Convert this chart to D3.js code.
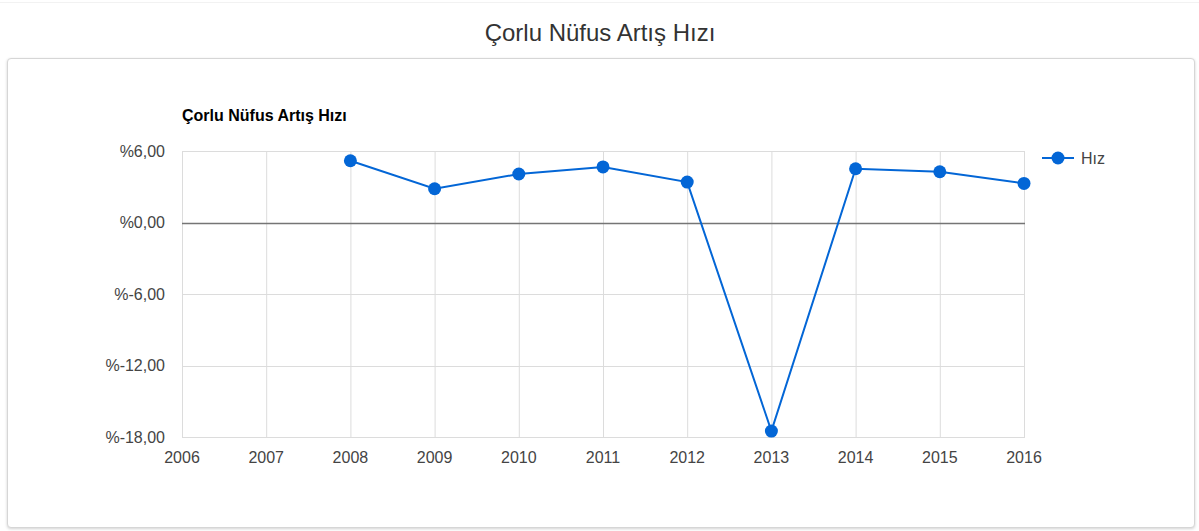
<!DOCTYPE html>
<html>
<head>
<meta charset="utf-8">
<script src="https://cdn.jsdelivr.net/npm/d3@7"></script>
<style>
  body { margin: 0; background: #fff; font-family: Arial, "Liberation Sans", sans-serif; }
  #top { position: absolute; left: 0; top: 2px; width: 1199px; height: 1px; background: #f2f2f2; }
  #card { position: absolute; left: 7px; top: 58px; width: 1186px; height: 468px; border: 1px solid #d6d6d6; border-radius: 4px; box-shadow: 0 1px 3px rgba(0,0,0,0.18); background: #fff; }
  svg { position: absolute; left: 0; top: 0; }
</style>
</head>
<body>
<div id="top"></div>
<div id="card"></div>
<svg id="viz" width="1199" height="531"></svg>
<script>
var years = [2006, 2007, 2008, 2009, 2010, 2011, 2012, 2013, 2014, 2015, 2016];
var dataYears = [2008, 2009, 2010, 2011, 2012, 2013, 2014, 2015, 2016];
var rates = [5.18, 2.83, 4.07, 4.66, 3.39, -17.5, 4.51, 4.26, 3.28];
var yTicks = [6, 0, -6, -12, -18];
var seriesName = "Hız";
var pageTitle = "Çorlu Nüfus Artış Hızı";

var svg = d3.select("#viz");
var x = d3.scaleLinear().domain([2006, 2016]).range([182, 1024]);
var y = d3.scaleLinear().domain([-18, 6]).range([437, 151]);
// turkish style: %6,00 with plain hyphen minus
var fmt = function (v) { return "%" + (v < 0 ? "-" : "") + Math.abs(v).toFixed(2).replace(".", ","); };
var blue = "#0366d6";

// page title
svg.append("text").attr("x", 600).attr("y", 41)
  .attr("text-anchor", "middle").attr("font-size", 24).attr("fill", "#333")
  .text(pageTitle);

// grid
svg.append("g").selectAll("line").data(years).join("line")
  .attr("x1", d => x(d) + 0.5).attr("x2", d => x(d) + 0.5)
  .attr("y1", y(6)).attr("y2", y(-18))
  .attr("stroke", "#dcdcdc").attr("stroke-width", 1);
svg.append("g").selectAll("line").data(yTicks).join("line")
  .attr("x1", x(2006)).attr("x2", x(2016) + 1)
  .attr("y1", d => Math.round(y(d)) + 0.5).attr("y2", d => Math.round(y(d)) + 0.5)
  .attr("stroke", d => d === 0 ? "#757575" : "#dcdcdc")
  .attr("stroke-width", d => d === 0 ? 1.5 : 1);

// y labels
svg.append("g").selectAll("text").data(yTicks).join("text")
  .attr("x", 165).attr("y", d => y(d) + 5.5)
  .attr("text-anchor", "end").attr("font-size", 16).attr("fill", "#444")
  .text(fmt);

// x labels
svg.append("g").selectAll("text").data(years).join("text")
  .attr("x", d => x(d)).attr("y", 463)
  .attr("text-anchor", "middle").attr("font-size", 16).attr("fill", "#444")
  .text(d => d);

// chart title
svg.append("text").attr("x", 182).attr("y", 121)
  .attr("font-size", 16).attr("font-weight", "bold").attr("fill", "#000")
  .text(pageTitle);

// line + points
var pts = dataYears.map((d, i) => [d, rates[i]]);
svg.append("path").datum(pts)
  .attr("fill", "none").attr("stroke", blue).attr("stroke-width", 2)
  .attr("d", d3.line().x(d => x(d[0])).y(d => y(d[1])));
svg.append("g").selectAll("circle").data(pts).join("circle")
  .attr("cx", d => x(d[0])).attr("cy", d => y(d[1])).attr("r", 6.5)
  .attr("fill", blue);

// legend
var lg = svg.append("g").attr("transform", "translate(1042,158)");
lg.append("line").attr("x1", 0).attr("x2", 32).attr("y1", 0).attr("y2", 0)
  .attr("stroke", blue).attr("stroke-width", 2);
lg.append("circle").attr("cx", 16).attr("cy", 0).attr("r", 6.5).attr("fill", blue);
lg.append("text").attr("x", 39).attr("y", 5.5).attr("font-size", 16).attr("fill", "#444").text(seriesName);
</script>
</body>
</html>
